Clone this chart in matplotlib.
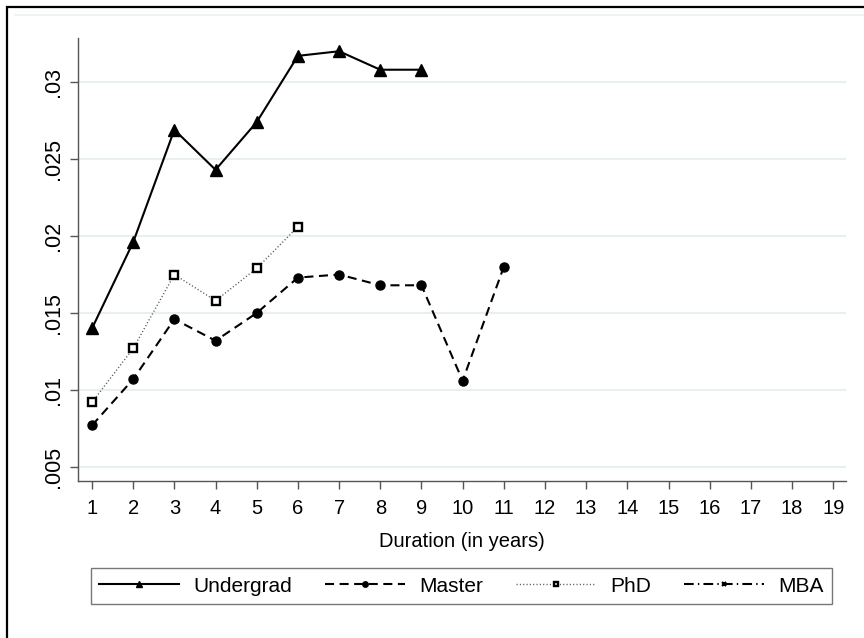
import numpy as np
import matplotlib
matplotlib.use('Agg')
import matplotlib.pyplot as plt
from matplotlib.patches import Rectangle
from matplotlib.lines import Line2D

plt.rcParams['font.family'] = ['Liberation Sans', 'DejaVu Sans']
plt.rcParams['lines.scale_dashes'] = False

# values
undergrad_x = [1, 2, 3, 4, 5, 6, 7, 8, 9]
undergrad_y = [0.0140, 0.0196, 0.0269, 0.0243, 0.0274, 0.0317, 0.0320, 0.0308, 0.0308]

master_x = [1, 2, 3, 4, 5, 6, 7, 8, 9, 10, 11]
master_y = [0.0077, 0.0107, 0.0146, 0.0132, 0.0150, 0.0173, 0.0175, 0.0168, 0.0168, 0.0106, 0.0180]

phd_x = [1, 2, 3, 4, 5, 6]
phd_y = [0.0092, 0.0127, 0.0175, 0.0158, 0.0179, 0.0206]

mba_x = []
mba_y = []

xticks = list(range(1, 20))
yticks = [0.005, 0.01, 0.015, 0.02, 0.025, 0.03]
ytick_labels = ['.005', '.01', '.015', '.02', '.025', '.03']

W, H = 864, 638
fig = plt.figure(figsize=(W / 100, H / 100), dpi=100)
fig.patch.set_facecolor('white')

# stata style outer frame (only top/left edges show in the crop)
fig.add_artist(Rectangle((7 / W, -0.1), 1.2, 1 - 7 / H + 0.1, transform=fig.transFigure,
                         fill=False, edgecolor='black', lw=1.6))
fig.add_artist(Line2D([15 / W, 1], [1 - 15 / H, 1 - 15 / H], transform=fig.transFigure,
                      color='#eaf0f2', lw=1.2))

ax = fig.add_axes([78 / W, 1 - 481 / H, (846 - 78) / W, (481 - 38) / H])

ax.plot(undergrad_x, undergrad_y, color='black', lw=1.5, ls='-',
        marker='^', ms=8, mfc='black', mec='black', label='Undergrad')
ax.plot(master_x, master_y, color='black', lw=1.5, dashes=(6.5, 4),
        marker='o', ms=6.5, mfc='black', mec='black', label='Master')
ax.plot(phd_x, phd_y, color='#555555', lw=1.0, dashes=(0.8, 1.6),
        marker='s', ms=5.5, mfc='white', mec='black', mew=1.7, label='PhD')
ax.plot(mba_x, mba_y, color='black', lw=1.5, dashes=(7, 3, 1, 3),
        marker='x', ms=5, mec='black', mew=1.5, label='MBA')

ax.set_xlim(0.66, 19.31)
ax.set_ylim(0.00409, 0.03286)
ax.set_xticks(xticks)
ax.set_yticks(yticks)
ax.set_yticklabels(ytick_labels, rotation=90, va='center')

ax.yaxis.grid(True, color='#e8eff1', lw=1.5)
ax.set_axisbelow(True)

for s in ['top', 'right']:
    ax.spines[s].set_visible(False)
for s in ['left', 'bottom']:
    ax.spines[s].set_color('#555555')
    ax.spines[s].set_linewidth(1.0)

ax.tick_params(axis='both', colors='#555555', labelcolor='black',
               length=6, width=1.0)
ax.tick_params(axis='x', pad=7, labelsize=14.5)
ax.tick_params(axis='y', pad=4, labelsize=15.5)

ax.set_xlabel('Duration (in years)', fontsize=14.5)
ax.xaxis.set_label_coords(0.5, -(532 - 481) / (481 - 38))

leg = ax.legend(ncol=4, loc='center', bbox_to_anchor=(461.5 / W, 1 - 586 / H),
                bbox_transform=fig.transFigure, fontsize=15, frameon=True,
                fancybox=False, edgecolor='#555555', handlelength=3.85,
                handletextpad=0.7, columnspacing=1.55, borderpad=0.4,
                markerscale=0.6, borderaxespad=0)
leg.get_frame().set_linewidth(1.0)

fig.savefig('out.png', dpi=100)
